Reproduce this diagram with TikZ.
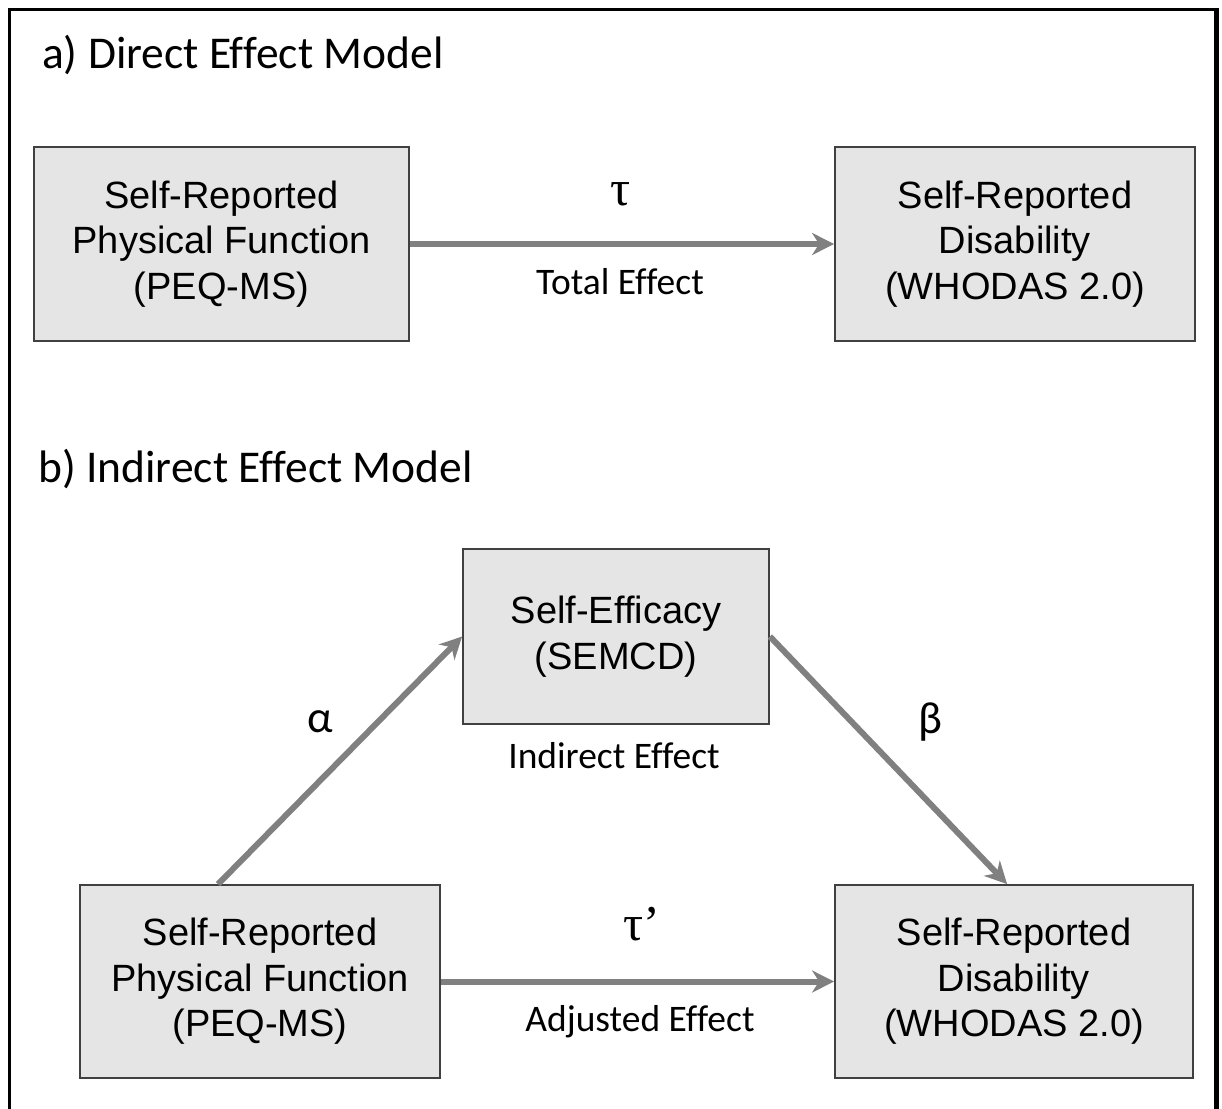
\documentclass[tikz,border=0pt]{standalone}
\usepackage{fontspec}
\setmainfont{Liberation Sans}
\newfontfamily\calfont[Ligatures=NoCommon]{Carlito}
\newfontfamily\tmsfont{Liberation Serif}
\usetikzlibrary{arrows.meta,calc}
\begin{document}
\begin{tikzpicture}[x=1pt,y=-1pt,
  varbox/.style={draw=black!75,line width=1.8pt,fill=black!10,rectangle,align=center,
    font=\fontsize{38}{45.5}\selectfont,inner sep=0pt},
  effarrow/.style={draw=black!50,line width=6pt,-{Stealth[length=22pt,width=22pt,inset=7pt]}},
  efflabel/.style={font=\calfont\fontsize{37.5}{44}\selectfont,anchor=base,inner sep=0pt},
  greek/.style={font=\calfont\fontsize{45}{50}\selectfont,anchor=base,inner sep=0pt},
  taulab/.style={font=\tmsfont\fontsize{50}{54}\selectfont,anchor=base,inner sep=0pt},
  heading/.style={font=\calfont\fontsize{45.5}{52}\selectfont,anchor=base west,inner sep=0pt}]
\useasboundingbox (0,0) rectangle (1222,1108);
\draw[line width=3pt] (9.5,1110) -- (9.5,10) -- (1216.5,10);
\draw[line width=4.5pt] (1216.5,8.5) -- (1216.5,1110);

\node[heading] (ta) at (42,68) {a) Direct Effect Model};
\node[heading] (tb) at (38,482) {b) Indirect Effect Model};

\node[varbox,minimum width=375pt,minimum height=194pt] (a1) at (221.5,244)
  {Self-Reported\\Physical Function\\(PEQ-MS)};
\node[varbox,minimum width=360pt,minimum height=194pt] (a2) at (1015,244)
  {Self-Reported\\Disability\\(WHODAS 2.0)};
\draw[effarrow] (a1.east) -- (a2.west);
\node[taulab] (tau) at (621,205) {τ};
\node[efflabel] (tot) at (620,294) {Total Effect};

\node[varbox,minimum width=306pt,minimum height=175pt] (sem) at (616,636.5)
  {Self-Efficacy\\(SEMCD)};
\node[varbox,minimum width=360pt,minimum height=193pt] (b1) at (260,981.5)
  {Self-Reported\\Physical Function\\(PEQ-MS)};
\node[varbox,minimum width=358pt,minimum height=193pt] (b2) at (1014,981.5)
  {Self-Reported\\Disability\\(WHODAS 2.0)};

\coordinate (alstart) at ($(b1.north west)+(139,0)$);
\coordinate (beend) at ($(b2.north west)+(173,0)$);
\draw[effarrow] (alstart) -- (sem.west);
\draw[effarrow] (sem.east) -- (beend);
\draw[effarrow] (b1.east) -- (b2.west);

\node[greek] (alpha) at (320,732) {α};
\node[greek] (beta) at (930,733) {β};
\node[efflabel] (ind) at (614,768) {Indirect Effect};
\node[taulab] (taup) at (642,940) {τ’};
\node[efflabel] (adj) at (640,1031) {Adjusted Effect};
\end{tikzpicture}
\end{document}
